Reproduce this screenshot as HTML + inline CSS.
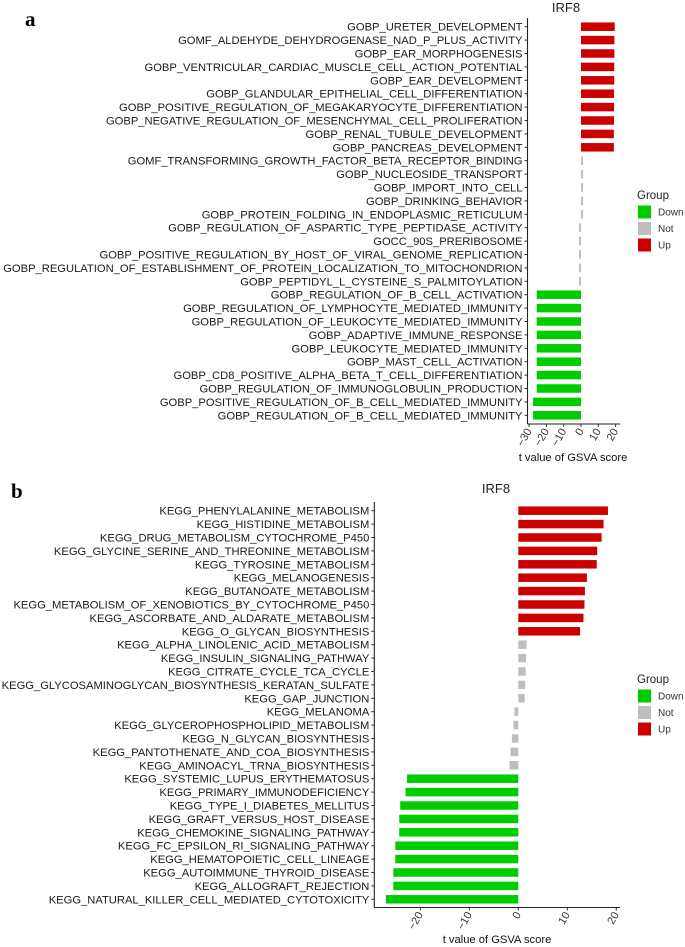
<!DOCTYPE html>
<html><head><meta charset="utf-8"><style>
body{margin:0;background:#fff;}
svg{display:block;font-family:"Liberation Sans",Arial,sans-serif;}
</style></head><body>
<svg id="fig" width="685" height="947" viewBox="0 0 685 947" xmlns="http://www.w3.org/2000/svg">
<text x="25" y="26" font-family="Liberation Serif,serif" font-weight="bold" font-size="21">a</text>
<text x="11" y="498" font-family="Liberation Serif,serif" font-weight="bold" font-size="21">b</text>
</svg>
<script>
const goTerms=["GOBP_URETER_DEVELOPMENT","GOMF_ALDEHYDE_DEHYDROGENASE_NAD_P_PLUS_ACTIVITY","GOBP_EAR_MORPHOGENESIS","GOBP_VENTRICULAR_CARDIAC_MUSCLE_CELL_ACTION_POTENTIAL","GOBP_EAR_DEVELOPMENT","GOBP_GLANDULAR_EPITHELIAL_CELL_DIFFERENTIATION","GOBP_POSITIVE_REGULATION_OF_MEGAKARYOCYTE_DIFFERENTIATION","GOBP_NEGATIVE_REGULATION_OF_MESENCHYMAL_CELL_PROLIFERATION","GOBP_RENAL_TUBULE_DEVELOPMENT","GOBP_PANCREAS_DEVELOPMENT","GOMF_TRANSFORMING_GROWTH_FACTOR_BETA_RECEPTOR_BINDING","GOBP_NUCLEOSIDE_TRANSPORT","GOBP_IMPORT_INTO_CELL","GOBP_DRINKING_BEHAVIOR","GOBP_PROTEIN_FOLDING_IN_ENDOPLASMIC_RETICULUM","GOBP_REGULATION_OF_ASPARTIC_TYPE_PEPTIDASE_ACTIVITY","GOCC_90S_PRERIBOSOME","GOBP_POSITIVE_REGULATION_BY_HOST_OF_VIRAL_GENOME_REPLICATION","GOBP_REGULATION_OF_ESTABLISHMENT_OF_PROTEIN_LOCALIZATION_TO_MITOCHONDRION","GOBP_PEPTIDYL_L_CYSTEINE_S_PALMITOYLATION","GOBP_REGULATION_OF_B_CELL_ACTIVATION","GOBP_REGULATION_OF_LYMPHOCYTE_MEDIATED_IMMUNITY","GOBP_REGULATION_OF_LEUKOCYTE_MEDIATED_IMMUNITY","GOBP_ADAPTIVE_IMMUNE_RESPONSE","GOBP_LEUKOCYTE_MEDIATED_IMMUNITY","GOBP_MAST_CELL_ACTIVATION","GOBP_CD8_POSITIVE_ALPHA_BETA_T_CELL_DIFFERENTIATION","GOBP_REGULATION_OF_IMMUNOGLOBULIN_PRODUCTION","GOBP_POSITIVE_REGULATION_OF_B_CELL_MEDIATED_IMMUNITY","GOBP_REGULATION_OF_B_CELL_MEDIATED_IMMUNITY"];
const goValues=[19.5,19.3,19.3,19.2,19.2,19.1,19.1,19.1,19.0,19.0,1.2,1.2,1.2,1.2,1.2,-1.2,-1.2,-1.2,-1.2,-1.2,-25.6,-25.6,-25.6,-25.6,-25.6,-25.6,-25.6,-25.6,-27.7,-27.7];
const goGroups=["Up","Up","Up","Up","Up","Up","Up","Up","Up","Up","Not","Not","Not","Not","Not","Not","Not","Not","Not","Not","Down","Down","Down","Down","Down","Down","Down","Down","Down","Down"];
const goTicks=[-30,-20,-10,0,10,20];
const keggTerms=["KEGG_PHENYLALANINE_METABOLISM","KEGG_HISTIDINE_METABOLISM","KEGG_DRUG_METABOLISM_CYTOCHROME_P450","KEGG_GLYCINE_SERINE_AND_THREONINE_METABOLISM","KEGG_TYROSINE_METABOLISM","KEGG_MELANOGENESIS","KEGG_BUTANOATE_METABOLISM","KEGG_METABOLISM_OF_XENOBIOTICS_BY_CYTOCHROME_P450","KEGG_ASCORBATE_AND_ALDARATE_METABOLISM","KEGG_O_GLYCAN_BIOSYNTHESIS","KEGG_ALPHA_LINOLENIC_ACID_METABOLISM","KEGG_INSULIN_SIGNALING_PATHWAY","KEGG_CITRATE_CYCLE_TCA_CYCLE","KEGG_GLYCOSAMINOGLYCAN_BIOSYNTHESIS_KERATAN_SULFATE","KEGG_GAP_JUNCTION","KEGG_MELANOMA","KEGG_GLYCEROPHOSPHOLIPID_METABOLISM","KEGG_N_GLYCAN_BIOSYNTHESIS","KEGG_PANTOTHENATE_AND_COA_BIOSYNTHESIS","KEGG_AMINOACYL_TRNA_BIOSYNTHESIS","KEGG_SYSTEMIC_LUPUS_ERYTHEMATOSUS","KEGG_PRIMARY_IMMUNODEFICIENCY","KEGG_TYPE_I_DIABETES_MELLITUS","KEGG_GRAFT_VERSUS_HOST_DISEASE","KEGG_CHEMOKINE_SIGNALING_PATHWAY","KEGG_FC_EPSILON_RI_SIGNALING_PATHWAY","KEGG_HEMATOPOIETIC_CELL_LINEAGE","KEGG_AUTOIMMUNE_THYROID_DISEASE","KEGG_ALLOGRAFT_REJECTION","KEGG_NATURAL_KILLER_CELL_MEDIATED_CYTOTOXICITY"];
const keggValues=[18.3,17.4,17.0,16.1,16.0,14.0,13.6,13.5,13.3,12.6,1.7,1.6,1.5,1.4,1.3,-0.8,-1.0,-1.3,-1.6,-1.8,-22.7,-23.0,-24.1,-24.3,-24.3,-25.1,-25.1,-25.5,-25.5,-27.0];
const keggGroups=["Up","Up","Up","Up","Up","Up","Up","Up","Up","Up","Not","Not","Not","Not","Not","Not","Not","Not","Not","Not","Down","Down","Down","Down","Down","Down","Down","Down","Down","Down"];
const keggTicks=[-20,-10,0,10,20];
const legendLabels=["Down","Not","Up"];
const colors={Down:"#00CD00",Not:"#BEBEBE",Up:"#CD0000"};
const NS="http://www.w3.org/2000/svg";
const svg=document.getElementById('fig');
function mk(tag,attrs,parent){const e=document.createElementNS(NS,tag);for(const k in attrs)e.setAttribute(k,attrs[k]);(parent||svg).appendChild(e);return e;}

function drawPanel(p,terms,values,groups,ticks){
  const g=mk('g',{});
  
  
  const xs=v=>p.zero+v*p.ppu;
  const ys=i=>p.y0+i*p.step;
  const t=mk('text',{x:p.titleX,y:p.titleY,'font-size':13,'text-anchor':'middle',fill:'#222'},g);
  t.textContent='IRF8';
  
  
  terms.forEach((term,i)=>{
    const v=values[i];
    const x1=xs(Math.min(0,v)),x2=xs(Math.max(0,v));
    const r=mk('rect',{x:x1,y:ys(i)-p.bh/2,width:Math.max(x2-x1,0.5),height:p.bh,fill:colors[groups[i]]},g);
    
    
    const l=mk('text',{x:p.axisX-5,y:ys(i)+4,'font-size':11.2,'text-anchor':'end',fill:'#1a1a1a'},g);
    l.textContent=term;
    
    
    mk('line',{x1:p.axisX-3,x2:p.axisX,y1:ys(i),y2:ys(i),stroke:'#333','stroke-width':1},g);
  });
  const ya=mk('line',{x1:p.axisX,x2:p.axisX,y1:p.top,y2:p.bottom,stroke:'#222','stroke-width':1.1},g);
  
  
  const xa=mk('line',{x1:p.axisX,x2:p.right,y1:p.bottom,y2:p.bottom,stroke:'#222','stroke-width':1.1},g);
  
  
  ticks.forEach(tv=>{
    const x=xs(tv);
    mk('line',{x1:x,x2:x,y1:p.bottom,y2:p.bottom+3,stroke:'#333'},g);
    const tl=mk('text',{x:x+3,y:p.bottom+7,'font-size':11,'text-anchor':'end',fill:'#333',transform:`rotate(-60 ${x+3} ${p.bottom+7})`},g);
    tl.textContent=tv<0?'\u2212'+Math.abs(tv):String(tv);
    
    
  });
  const xl=mk('text',{x:p.xlabX,y:p.xlabY,'font-size':11.2,'text-anchor':'middle',fill:'#111'},g);
  xl.textContent='t value of GSVA score';
  
  
  const lg=mk('g',{},g);
  
  
  const lt=mk('text',{x:p.legX,y:p.legY,'font-size':11.5,fill:'#222'},lg);
  lt.textContent='Group';
  
  
  legendLabels.forEach((lab,k)=>{
    const cy=p.legY+13+k*16.5;
    const sw=mk('rect',{x:p.legX+1,y:cy-6.5,width:13,height:13,fill:colors[lab]},lg);
    
    
    const tx=mk('text',{x:p.legX+21,y:cy+3.5,'font-size':10,fill:'#333'},lg);
    tx.textContent=lab;
    
    
  });
}
drawPanel({name:'panel-a-go-chart',zero:581,ppu:1.73,y0:26.7,step:13.4,bh:8.5,axisX:527.5,top:18,bottom:424,right:620,titleX:566,titleY:12,xlabX:573,xlabY:461,legX:637,legY:199},goTerms,goValues,goGroups,goTicks);
drawPanel({name:'panel-b-kegg-chart',zero:518.3,ppu:4.9,y0:510.7,step:13.4,bh:8.5,axisX:374.3,top:502,bottom:907.5,right:620,titleX:496,titleY:493,xlabX:497,xlabY:943,legX:637,legY:683},keggTerms,keggValues,keggGroups,keggTicks);
</script>
</body></html>
